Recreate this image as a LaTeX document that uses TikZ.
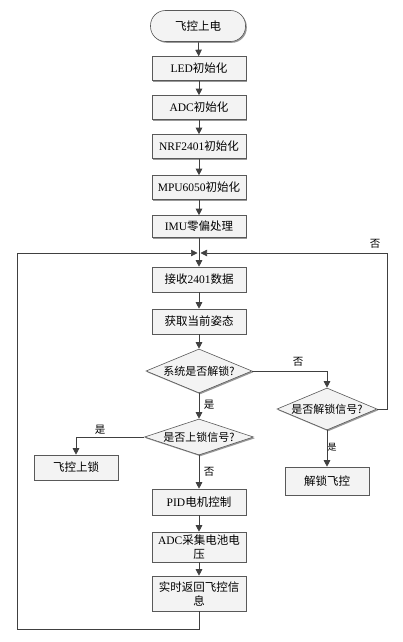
\documentclass[tikz,border=0pt]{standalone}
\usepackage{fontspec}
\setmainfont{Liberation Serif}
\newfontfamily\cjk{Noto Sans CJK SC}
\newcommand{\zhtxt}[1]{{\cjk #1}}
\usetikzlibrary{arrows.meta,shapes.geometric,shadows}
\definecolor{linec}{HTML}{404040}
\definecolor{boxfill}{HTML}{F3F3F3}
\begin{document}
\begin{tikzpicture}[x=1pt,y=-1pt,
  every node/.style={font=\fontsize{11.5}{14}\selectfont},
  boxshape/.style={draw=black!65, fill=boxfill, line width=0.6pt,
    drop shadow={shadow xshift=1.3pt,shadow yshift=-1.3pt,fill=black!50,opacity=0.8}},
  box/.style={boxshape, rectangle, minimum width=94pt, minimum height=24pt, inner sep=1pt, align=center},
  term/.style={boxshape, rectangle, rounded corners=15pt, minimum width=95pt, minimum height=31pt},
  dec/.style={boxshape, diamond, aspect=2.6, inner xsep=-8pt, inner ysep=-2pt, font=\fontsize{11}{13}\selectfont},
  arr/.style={draw=linec, line width=0.7pt, -{Triangle[length=6.5pt,width=6.5pt]}},
  ln/.style={draw=linec, line width=0.7pt},
  lab/.style={font=\fontsize{10.5}{12}\selectfont, inner sep=1pt}]
\useasboundingbox[fill=white] (0,0) rectangle (403,642);

\node[term] (start) at (198,26) {\zhtxt{飞控上电}};
\node[box] (led) at (199,68.5) {LED\zhtxt{初始化}};
\node[box] (adc) at (199,107.5) {ADC\zhtxt{初始化}};
\node[box] (nrf) at (199,146.5) {NRF2401\zhtxt{初始化}};
\node[box] (mpu) at (199,187.5) {MPU6050\zhtxt{初始化}};
\node[box, minimum height=22pt] (imu) at (199,226.5) {IMU\zhtxt{零偏处理}};
\coordinate (j) at (199,253);
\node[box, minimum height=25pt] (rx) at (199,279.5) {\zhtxt{接收}2401\zhtxt{数据}};
\node[box, minimum height=25pt] (att) at (199,321.5) {\zhtxt{获取当前姿态}};
\node[dec, minimum width=106pt, minimum height=44pt] (d1) at (199,371) {\zhtxt{系统是否解锁?}};
\node[dec, minimum width=100pt, minimum height=42pt] (d2) at (327,409) {\zhtxt{是否解锁信号?}};
\node[dec, minimum width=109pt, minimum height=36pt, aspect=3] (d3) at (199,437) {\zhtxt{是否上锁信号?}};
\node[box, minimum width=84pt, minimum height=25pt] (lock) at (76,467.5) {\zhtxt{飞控上锁}};
\node[box, minimum width=84pt, minimum height=28pt] (unlock) at (327,481) {\zhtxt{解锁飞控}};
\node[box, minimum height=26pt] (pid) at (199,502) {PID\zhtxt{电机控制}};
\node[box, minimum height=30pt, text width=92pt] (adc2) at (199,547) {ADC\zhtxt{采集电池电}\\\zhtxt{压}};
\node[box, minimum height=35pt, text width=92pt] (ret) at (199,593.5) {\zhtxt{实时返回飞控信}\\\zhtxt{息}};
\coordinate (bl) at (17,629);
\coordinate (rr) at (387,409);

\draw[arr] (start) -- (led);
\draw[arr] (led) -- (adc);
\draw[arr] (adc) -- (nrf);
\draw[arr] (nrf) -- (mpu);
\draw[arr] (mpu) -- (imu);
\draw[ln] (imu) -- (j);
\draw[arr] (j) -- (rx);
\draw[arr] (rx) -- (att);
\draw[arr] (att) -- (d1);
\draw[arr] (d1.east) -| (d2.north);
\draw[arr] (d1.south) -- (d3.north);
\draw[arr] (d2.south) -- (unlock.north);
\draw[arr] (d3.west) -| (lock.north);
\draw[arr] (d3.south) -- (pid.north);
\draw[arr] (pid) -- (adc2);
\draw[arr] (adc2) -- (ret);
\draw[arr, shorten >=1.5pt] (d2.east) -- (rr) |- (j);
\draw[arr, shorten >=1.5pt] (ret.south) |- (bl) |- (j);

\node[lab] (l1) at (298,362) {\zhtxt{否}};
\node[lab] (l2) at (375,244) {\zhtxt{否}};
\node[lab] (l3) at (209,405) {\zhtxt{是}};
\node[lab] (l4) at (100,430) {\zhtxt{是}};
\node[lab] (l5) at (209,472) {\zhtxt{否}};
\node[lab, font=\fontsize{9}{10}\selectfont] (l6) at (332,447) {\zhtxt{是}};
\end{tikzpicture}
\end{document}
